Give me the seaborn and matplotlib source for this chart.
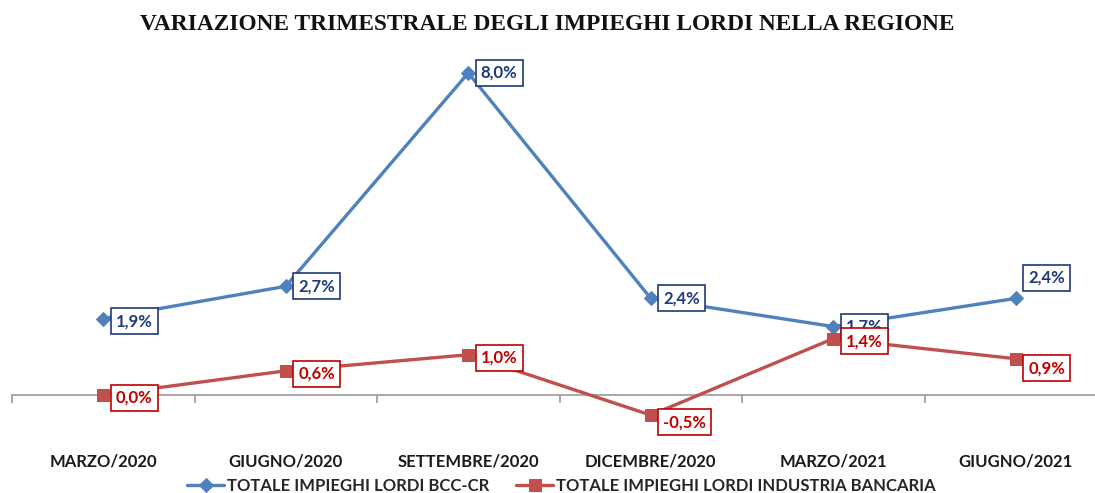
import matplotlib
matplotlib.use("Agg")
import matplotlib.pyplot as plt
import pandas as pd
import seaborn as sns

periods = ["MARZO/2020", "GIUGNO/2020", "SETTEMBRE/2020", "DICEMBRE/2020", "MARZO/2021", "GIUGNO/2021"]
bcc_values = [1.9, 2.7, 8.0, 2.4, 1.7, 2.4]
industry_values = [0.0, 0.6, 1.0, -0.5, 1.4, 0.9]
bcc_label = "TOTALE IMPIEGHI LORDI BCC-CR"
industry_label = "TOTALE IMPIEGHI LORDI INDUSTRIA BANCARIA"
title = "VARIAZIONE TRIMESTRALE DEGLI IMPIEGHI LORDI NELLA REGIONE"

# label offsets in points (dx, dy), styling only
bcc_offsets = [(9, -2), (9, 0), (9, 0), (9, 0), (9, 0), (9, 15)]
industry_offsets = [(9, -2), (9, -2), (9, -2), (9, -5), (9, -2), (9, -7)]

sns.set_theme(style="white")
plt.rcParams["font.family"] = ["Lato", "DejaVu Sans"]

df = pd.DataFrame({"period": periods, "bcc": bcc_values, "industry": industry_values})
df["x"] = range(len(df))

fig = plt.figure(figsize=(10.95, 4.93), dpi=100)
ax = fig.add_axes([12 / 1095, 1 - 431.2 / 493, 1.0, (431.2 - 60.9) / 493])

blue = "#4F81BD"
red = "#C0504D"
blue_txt = "#1F3A78"
red_txt = "#C00000"

sns.lineplot(data=df, x="x", y="bcc", ax=ax, color=blue, linewidth=2.4,
             marker="D", markersize=7.5, markeredgecolor=blue, label=bcc_label, zorder=2)
sns.lineplot(data=df, x="x", y="industry", ax=ax, color=red, linewidth=2.4,
             marker="s", markersize=8.5, markeredgecolor=red, label=industry_label, zorder=4)

def add_labels(values, offsets, txt_color, z):
    for i, (v, off) in enumerate(zip(values, offsets)):
        ax.annotate(f"{v:.1f}%".replace(".", ","), (i, v), xytext=off, textcoords="offset points",
                    ha="left", va="center", fontsize=12, fontweight="bold", color=txt_color,
                    bbox=dict(boxstyle="square,pad=0.3", fc="white", ec=txt_color, lw=1.2),
                    zorder=z, annotation_clip=False)

add_labels(bcc_values, bcc_offsets, blue_txt, 3)
add_labels(industry_values, industry_offsets, red_txt, 5)

ax.set_xlim(-0.5, 5.5)
ax.set_ylim(-0.9, 8.3)
for s in ["left", "right", "top"]:
    ax.spines[s].set_visible(False)
ax.spines["bottom"].set_position(("data", 0))
ax.spines["bottom"].set_color("#9A9A9A")
ax.spines["bottom"].set_linewidth(1.2)
ax.set_yticks([])
ax.set_xticks(df["x"])
ax.set_xticklabels(periods, fontsize=12, fontweight="bold", color="#1A1A1A")
ax.set_xticks([i - 0.5 for i in range(len(periods) + 1)], minor=True)
ax.tick_params(axis="x", which="major", length=0, pad=42)
ax.tick_params(axis="x", which="minor", length=6, width=1.2, color="#9A9A9A", direction="out", bottom=True)
ax.set_xlabel("")
ax.set_ylabel("")

ax.legend(loc="center", bbox_to_anchor=(0.513, 0.015), bbox_transform=fig.transFigure,
          ncol=2, frameon=False, prop={"family": ["Lato", "DejaVu Sans"], "weight": "bold", "size": 12},
          handlelength=2.2, columnspacing=1.6, handletextpad=0.2, borderaxespad=0)

fig.text(0.5, 1 - 24 / 493, title, ha="center", va="center", fontsize=16.8, fontweight="bold",
         family=["Liberation Serif", "DejaVu Serif"], color="#111111")

fig.savefig("out.png", dpi=100)
